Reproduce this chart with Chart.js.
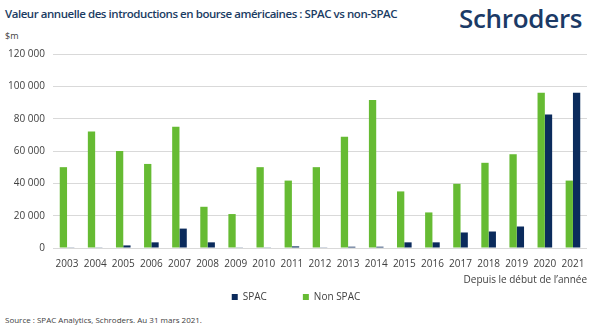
<!DOCTYPE html>
<html>
<head>
<meta charset="utf-8">
<script src="https://cdn.jsdelivr.net/npm/chart.js@4"></script>
<style>
  body { margin: 0; background: #fff; font-family: "Open Sans", "Noto Sans", sans-serif; }
  #wrap { position: relative; width: 594px; height: 329px; overflow: hidden; }
  #title { position: absolute; left: 5px; top: 6px; font-size: 11.5px; font-weight: 600; color: #1b3c63; letter-spacing: -0.45px; }
  #logo { position: absolute; left: 459px; top: 0px; font-size: 26px; font-weight: 600; color: #1b3a66; letter-spacing: -0.3px; }
  #unit { position: absolute; left: 5px; top: 29px; font-size: 9px; color: #404040; }
  #source { position: absolute; left: 5px; top: 314px; font-size: 8px; color: #404040; }
  #chartBox { position: absolute; left: 0; top: 40px; width: 594px; height: 272px; }
</style>
</head>
<body>
<div id="wrap">
  <div id="title">Valeur annuelle des introductions en bourse américaines : SPAC vs non-SPAC</div>
  <div id="logo">Schroders</div>
  <div id="unit">$m</div>
  <div id="chartBox"><canvas id="chart"></canvas></div>
  <div id="source">Source : SPAC Analytics, Schroders. Au 31 mars 2021.</div>
</div>
<script>
const years = ['2003', '2004', '2005', '2006', '2007', '2008', '2009', '2010', '2011', '2012',
  '2013', '2014', '2015', '2016', '2017', '2018', '2019', '2020', '2021'];
const nonSpac = [50000, 72000, 60000, 52000, 75000, 25500, 21000, 50000, 41700, 50000,
  68800, 91500, 35000, 22000, 39700, 52700, 58000, 96000, 41700];
const spac = [200, 200, 1600, 3500, 12000, 3500, 200, 200, 1000, 200,
  800, 800, 3500, 3500, 9600, 10200, 13300, 82600, 96000];

const fmt = v => String(v).replace(/\B(?=(\d{3})+(?!\d))/g, ' ');
const font = { family: '"Open Sans", sans-serif', size: 10 };

new Chart(document.getElementById('chart'), {
  type: 'bar',
  data: {
    labels: years,
    datasets: [
      { label: 'Non SPAC', data: nonSpac, backgroundColor: '#66bb33' },
      { label: 'SPAC', data: spac, backgroundColor: '#0b2b5c' }
    ]
  },
  options: {
    responsive: true,
    maintainAspectRatio: false,
    animation: false,
    datasets: { bar: { categoryPercentage: 0.52, barPercentage: 1.0 } },
    layout: { padding: { left: 5, right: 7, top: 10, bottom: 0 } },
    plugins: {
      tooltip: { enabled: false },
      legend: {
        position: 'bottom',
        labels: {
          sort: (a, b) => b.datasetIndex - a.datasetIndex,
          boxWidth: 6, boxHeight: 6, padding: 6,
          color: '#404040',
          font: font,
          generateLabels: chart => Chart.defaults.plugins.legend.labels.generateLabels(chart)
            .map(l => Object.assign(l, { text: l.text === 'SPAC' ? 'SPAC\u2003\u2003\u2003' : l.text }))
        }
      }
    },
    scales: {
      x: {
        grid: { display: false },
        border: { display: false },
        ticks: { color: '#404040', font: font, maxRotation: 0, autoSkip: false, padding: 2 },
        title: { display: true, text: 'Depuis le début de l\u2019année', align: 'end', color: '#404040', font: font, padding: { top: 2, bottom: 0 } }
      },
      y: {
        min: 0, max: 120000,
        afterFit: s => { s.width = 48; },
        grid: { color: '#d9d9d9', drawTicks: false },
        border: { display: false },
        ticks: { stepSize: 20000, color: '#404040', padding: 8, font: font, callback: v => fmt(v) }
      }
    }
  }
});
</script>
</body>
</html>
